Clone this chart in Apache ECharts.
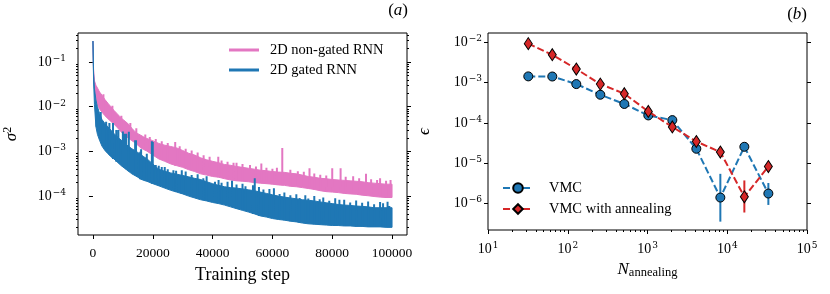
<!DOCTYPE html>
<html><head><meta charset="utf-8">
<script src="https://cdn.jsdelivr.net/npm/echarts@6/dist/echarts.min.js"></script>
<style>html,body{margin:0;padding:0;background:#fff}#c{width:830px;height:294px}</style>
</head><body><div id="c"></div>
<script>
// ---------- panel (a) data ----------
const steps = [0,200,500,1000,1500,2200,3000,4000,5000,6000,7000,8000,9000,10000,11000,12000,13000,14000,15000,16000,17000,18000,
  20000,22000,24000,26000,28000,30000,32000,34000,36000,38000,40000,42000,44000,46000,48000,50000,52000,54000,56000,58000,60000,
  62000,64000,66000,68000,70000,72000,74000,76000,78000,80000,82000,84000,86000,88000,90000,92000,94000,96000,98000,100000];
const nonGatedHigh = [0.295,0.0708,0.038,0.0302,0.0263,0.0214,0.0182,0.0145,0.0120,0.0100,8.3e-3,7.1e-3,6.0e-3,5.2e-3,4.6e-3,4.0e-3,3.3e-3,2.8e-3,2.5e-3,2.3e-3,2.1e-3,1.95e-3,
  1.74e-3,1.51e-3,1.38e-3,1.29e-3,1.20e-3,1.05e-3,9.1e-4,8.3e-4,7.2e-4,6.5e-4,6.0e-4,5.6e-4,5.1e-4,4.9e-4,4.6e-4,4.4e-4,4.2e-4,4.0e-4,3.8e-4,3.7e-4,3.55e-4,
  3.45e-4,3.4e-4,3.25e-4,3.15e-4,2.95e-4,2.75e-4,2.65e-4,2.5e-4,2.45e-4,2.35e-4,2.3e-4,2.25e-4,2.2e-4,2.15e-4,2.1e-4,2.0e-4,1.95e-4,1.9e-4,1.85e-4,1.85e-4];
const nonGatedLow = [0.295,0.050,0.0251,0.0158,0.0112,8.9e-3,7.6e-3,6.3e-3,5.4e-3,4.7e-3,4.1e-3,3.5e-3,2.95e-3,2.5e-3,2.2e-3,1.95e-3,1.74e-3,1.58e-3,1.38e-3,1.20e-3,1.10e-3,1.02e-3,
  8.3e-4,6.8e-4,6.0e-4,5.25e-4,4.8e-4,4.4e-4,3.9e-4,3.55e-4,3.15e-4,2.95e-4,2.75e-4,2.65e-4,2.45e-4,2.3e-4,2.2e-4,2.15e-4,2.1e-4,2.0e-4,1.95e-4,1.9e-4,1.85e-4,
  1.78e-4,1.74e-4,1.66e-4,1.62e-4,1.55e-4,1.48e-4,1.41e-4,1.32e-4,1.26e-4,1.23e-4,1.20e-4,1.15e-4,1.12e-4,1.10e-4,1.05e-4,1.02e-4,9.8e-5,9.5e-5,9.3e-5,9.3e-5];
const gatedHigh = [0.295,0.056,0.0251,0.0141,0.0100,7.1e-3,5.2e-3,4.2e-3,3.55e-3,3.0e-3,2.5e-3,2.2e-3,1.9e-3,1.66e-3,1.45e-3,1.29e-3,1.15e-3,1.05e-3,9.5e-4,8.5e-4,7.6e-4,6.9e-4,
  5.25e-4,4.0e-4,3.6e-4,3.3e-4,3.1e-4,2.9e-4,2.7e-4,2.5e-4,2.35e-4,2.1e-4,1.9e-4,1.74e-4,1.62e-4,1.55e-4,1.51e-4,1.45e-4,1.38e-4,1.32e-4,1.23e-4,1.15e-4,1.07e-4,
  1.0e-4,9.5e-5,9.1e-5,8.7e-5,8.3e-5,8.1e-5,7.8e-5,7.4e-5,7.1e-5,6.8e-5,6.5e-5,6.3e-5,6.2e-5,6.0e-5,5.9e-5,5.75e-5,5.5e-5,5.5e-5,5.5e-5,5.5e-5];
const gatedLow = [0.295,0.040,0.0112,3.55e-3,2.4e-3,1.78e-3,1.32e-3,1.05e-3,8.9e-4,7.6e-4,6.8e-4,5.9e-4,5.1e-4,4.5e-4,4.0e-4,3.55e-4,3.15e-4,2.9e-4,2.65e-4,2.4e-4,2.25e-4,2.15e-4,
  1.9e-4,1.7e-4,1.51e-4,1.35e-4,1.23e-4,1.12e-4,1.0e-4,9.1e-5,8.3e-5,7.8e-5,7.2e-5,6.8e-5,6.3e-5,5.75e-5,5.25e-5,4.8e-5,4.4e-5,4.0e-5,3.6e-5,3.4e-5,3.15e-5,
  3.0e-5,2.9e-5,2.75e-5,2.65e-5,2.5e-5,2.4e-5,2.35e-5,2.3e-5,2.25e-5,2.2e-5,2.2e-5,2.15e-5,2.15e-5,2.1e-5,2.1e-5,2.05e-5,2.05e-5,2.05e-5,2.0e-5,2.0e-5];
// upward excursions of the noisy curves (step, peak sigma^2)
const nonGatedSpikes = [[27500,1.62e-3],[41900,7.6e-4],[48000,5.6e-4],[56300,5.4e-4],[63300,1.2e-3],[72400,4.2e-4],[80000,4.2e-4],[82800,4.2e-4],[87000,2.8e-4],[91300,3.15e-4],[96000,2.5e-4],
  [3500,0.019],[6500,0.0105],[9500,6.3e-3],[12500,4.3e-3],[14500,3.3e-3],[17500,2.4e-3],[19000,2.1e-3],[21000,1.9e-3],[23000,1.7e-3],[25000,1.55e-3],[29000,1.3e-3],
  [31000,1.15e-3],[33000,1.05e-3],[35000,9.5e-4],[37000,8.2e-4],[39000,7.6e-4],[43000,6.3e-4],[45000,5.9e-4],[47000,5.6e-4],[50000,5.2e-4],[52500,5.0e-4],[54500,4.6e-4],
  [58000,4.3e-4],[60000,4.1e-4],[61500,4.3e-4],[66000,3.9e-4],[68500,3.6e-4],[70500,3.5e-4],[74000,3.2e-4],[76000,3.0e-4],[78000,2.9e-4],[84500,2.7e-4],[89000,2.5e-4],
  [93000,2.4e-4],[95000,2.3e-4],[98000,2.2e-4],[99500,2.3e-4]];
const gatedSpikes = [[1200,7.1e-3],[2600,7.6e-3],[4400,4.6e-3],[5500,4.3e-3],[6700,4.3e-3],[7800,3.0e-3],[8500,3.0e-3],[10000,2.8e-3],[10500,2.5e-3],[11100,2.5e-3],[12000,2.75e-3],
  [14100,1.78e-3],[14400,1.78e-3],[15800,9.8e-4],[16100,1.12e-3],[18000,8.9e-4],[19700,1.7e-3],[20000,1.62e-3],[23000,4.5e-4],[25000,4.0e-4],[26900,3.8e-4],[29700,3.8e-4],
  [31000,3.55e-4],[33000,2.95e-4],[36900,2.5e-4],[40800,2.1e-4],[43000,2.0e-4],[48000,1.82e-4],[51000,1.66e-4],[53500,1.74e-4],[54100,2.5e-4],[57000,1.41e-4],[62400,1.12e-4],
  [66000,1.05e-4],[69100,9.1e-5],[72000,8.9e-5],[75800,8.5e-5],[79000,7.9e-5],[82400,8.3e-5],[86000,7.2e-5],[90000,7.1e-5],[94000,6.6e-5],[97000,6.9e-5],[99100,6.0e-5],
  [21000,5.0e-4],[22000,4.8e-4],[24000,4.5e-4],[27800,3.7e-4],[35000,3.1e-4],[38000,2.8e-4],[42000,2.3e-4],[45000,2.1e-4],[46500,2.2e-4],[50000,1.9e-4],[55500,1.6e-4],
  [59000,1.45e-4],[60500,1.5e-4],[64000,1.2e-4],[68000,1.1e-4],[71000,1.05e-4],[74000,1.0e-4],[77000,9.3e-5],[81000,9.0e-5],[84000,8.3e-5],[88000,8.0e-5],[92000,7.6e-5],
  [96000,7.4e-5],[98500,7.5e-5]];
const leftXTicks = [0,20000,40000,60000,80000,100000];
const leftYTickExponents = [-4,-3,-2,-1];
// ---------- panel (b) data ----------
const nAnnealing = [32,64,128,256,512,1024,2048,4096,8192,16384,32768];
const vmc = [1.43e-3,1.42e-3,9.2e-4,5.0e-4,2.95e-4,1.53e-4,1.17e-4,2.27e-5,1.39e-6,2.54e-5,1.75e-6];
const vmcLower = [1.40e-3,1.39e-3,9.0e-4,4.9e-4,2.9e-4,1.48e-4,1.14e-4,1.9e-5,3.5e-7,2.4e-5,9.1e-7];
const vmcUpper = [1.46e-3,1.45e-3,9.4e-4,5.1e-4,3.0e-4,1.58e-4,1.2e-4,2.6e-5,5.4e-6,2.6e-5,3.2e-6];
const annealed = [9.3e-3,4.94e-3,2.18e-3,9.2e-4,5.3e-4,1.92e-4,7.9e-5,3.44e-5,1.88e-5,1.45e-6,8.2e-6];
const annealedLower = [9.1e-3,4.8e-3,2.1e-3,9.0e-4,5.2e-4,1.85e-4,7.6e-5,3.2e-5,1.7e-5,5.9e-7,7.6e-6];
const annealedUpper = [9.5e-3,5.0e-3,2.25e-3,9.4e-4,5.4e-4,1.98e-4,8.2e-5,3.7e-5,2.1e-5,3.7e-6,8.8e-6];
const rightXTickExponents = [1,2,3,4,5];
const rightYTickExponents = [-6,-5,-4,-3,-2];
const minorMultipliers = [2,3,4,5,6,7,8,9];

// ---------- build ----------
const PINK = '#e377c2', BLUE = '#1f77b4', RED = '#d62728';
const FONT = 'Liberation Serif';
const SUPFONT = 'DejaVu Serif';
const L = Math.log10;
const minorsFor = (decades) => { const r = []; decades.forEach(d => minorMultipliers.forEach(m => r.push(L(m) + d))); return r; };
const leftYMinor = minorsFor([-5,-4,-3,-2,-1]);
const rightXMinor = minorsFor([1,2,3,4]);
const supLabel = (v) => { const e = Math.round(v); return '{b|10}{s|' + (e < 0 ? '\u2212' : '') + Math.abs(e) + '}'; };
const supRich = { b: { fontFamily: FONT, fontSize: 14, color: '#000', lineHeight: 16 },
                  s: { fontFamily: SUPFONT, fontSize: 9, color: '#000', lineHeight: 10, verticalAlign: 'top', padding: [0, 0, 0, 1] } };

function band(lowArr, highArr, color, name) {
  return { type: 'custom', name: name, xAxisIndex: 0, yAxisIndex: 0, silent: true, itemStyle: { color: color },
    data: steps.map((s, i) => [s, L(lowArr[i]), L(highArr[i])]),
    encode: { x: 0, y: [1, 2] },
    renderItem: (params, api) => {
      if (params.dataIndex !== 0) return null;
      const pts = [];
      steps.forEach((s, i) => pts.push(api.coord([s, L(highArr[i])])));
      for (let i = steps.length - 1; i >= 0; i--) pts.push(api.coord([steps[i], L(lowArr[i])]));
      return { type: 'polygon', shape: { points: pts }, style: { fill: color, stroke: color, lineWidth: 1 } };
    } };
}
function spikes(list, lowArr, color, name) {
  const out = [];
  list.forEach(([s, v]) => {
    let idx = 0;
    steps.forEach((g, i) => { if (Math.abs(g - s) < Math.abs(steps[idx] - s)) idx = i; });
    out.push([s, L(lowArr[idx])], [s, L(v)], [s, '-']);
  });
  return { type: 'line', name: name, xAxisIndex: 0, yAxisIndex: 0, data: out, symbol: 'none', color: color,
    lineStyle: { color: color, width: 2 }, silent: true };
}
function errBars(lower, upper, color, name, z) {
  return { type: 'custom', name: name, xAxisIndex: 1, yAxisIndex: 4, z: z, silent: true,
    data: nAnnealing.map((n, i) => [L(n), L(lower[i]), L(upper[i])]),
    encode: { x: 0, y: [1, 2] },
    renderItem: (params, api) => {
      const p1 = api.coord([api.value(0), api.value(1)]);
      const p2 = api.coord([api.value(0), api.value(2)]);
      return { type: 'line', shape: { x1: p1[0], y1: p1[1], x2: p2[0], y2: p2[1] }, style: { stroke: color, lineWidth: 2 } };
    } };
}
const tickStyle = (len) => ({ show: true, inside: false, length: len, lineStyle: { color: '#000', width: 1 } });
const yAx = (grid, min, max, pos, major, minor, labelMargin, extra) => Object.assign({
  type: 'value', gridIndex: grid, min: min, max: max, position: pos,
  axisLine: { show: false }, splitLine: { show: false },
  axisTick: Object.assign(tickStyle(minor ? 2 : 4), { customValues: major }),
  axisLabel: labelMargin ? { show: true, customValues: major, formatter: supLabel, rich: supRich, margin: labelMargin } : { show: false }
}, extra || {});

const series = [
  band(nonGatedLow, nonGatedHigh, PINK, '2D non-gated RNN'),
  spikes(nonGatedSpikes, nonGatedLow, PINK, 'ng_spikes'),
  band(gatedLow, gatedHigh, BLUE, '2D gated RNN'),
  spikes(gatedSpikes, gatedLow, BLUE, 'g_spikes'),
  errBars(vmcLower, vmcUpper, BLUE, 'vmc_err', 3),
  { type: 'line', name: 'VMC', xAxisIndex: 1, yAxisIndex: 4, z: 4, silent: true,
    data: nAnnealing.map((n, i) => [L(n), L(vmc[i])]),
    symbol: 'circle', symbolSize: 9, itemStyle: { color: BLUE, borderColor: '#000', borderWidth: 1 },
    lineStyle: { color: BLUE, width: 2, type: [7, 3] } },
  errBars(annealedLower, annealedUpper, RED, 'ann_err', 5),
  { type: 'line', name: 'VMC with annealing', xAxisIndex: 1, yAxisIndex: 4, z: 6, silent: true,
    data: nAnnealing.map((n, i) => [L(n), L(annealed[i])]),
    symbol: 'diamond', symbolSize: [8, 12], itemStyle: { color: RED, borderColor: '#000', borderWidth: 1 },
    lineStyle: { color: RED, width: 2, type: [7, 3] } }
];

const panelRich = { p: { fontFamily: FONT, fontSize: 17, fontWeight: 'normal', color: '#000' },
                    i: { fontFamily: FONT, fontSize: 17, fontWeight: 'normal', fontStyle: 'italic', color: '#000' } };
const option = {
  animation: false,
  backgroundColor: '#fff',
  textStyle: { fontFamily: FONT, color: '#000' },
  title: [
    { text: '{p|(}{i|a}{p|)}', right: 422, top: 2, padding: 0, textStyle: { fontWeight: 'normal', rich: panelRich } },
    { text: '{p|(}{i|b}{p|)}', right: 23, top: 6, padding: 0, textStyle: { fontWeight: 'normal', rich: panelRich } }
  ],
  legend: [
    { data: ['2D non-gated RNN', '2D gated RNN'], orient: 'vertical', left: 229, top: 42, padding: 0,
      icon: 'rect', itemWidth: 30, itemHeight: 3, itemGap: 4, selectedMode: false,
      textStyle: { fontFamily: FONT, fontSize: 14.5, color: '#000', lineHeight: 16, padding: [0, 0, 0, 6] } },
    { data: ['VMC', 'VMC with annealing'], orient: 'vertical', left: 502, top: 180, padding: 0,
      itemWidth: 30, itemHeight: 12, itemGap: 5, selectedMode: false,
      textStyle: { fontFamily: FONT, fontSize: 14.5, color: '#000', lineHeight: 16, padding: [0, 0, 0, 11] } }
  ],
  grid: [
    { left: 78, top: 33, width: 329, height: 202, show: true, borderColor: '#000', borderWidth: 1, backgroundColor: 'transparent', containLabel: false, outerBoundsMode: 'none' },
    { left: 488, top: 33, width: 319, height: 197, show: true, borderColor: '#000', borderWidth: 1, backgroundColor: 'transparent', containLabel: false, outerBoundsMode: 'none' }
  ],
  xAxis: [
    { type: 'value', gridIndex: 0, min: -5000, max: 105000, position: 'bottom',
      axisLine: { show: false }, splitLine: { show: false },
      axisTick: Object.assign(tickStyle(4), { customValues: leftXTicks }),
      axisLabel: { customValues: leftXTicks, formatter: (v) => String(v), fontFamily: FONT, fontSize: 13.5, color: '#000', lineHeight: 16, margin: 10 },
      name: 'Training step', nameLocation: 'middle', nameGap: 29,
      nameTextStyle: { fontFamily: FONT, fontSize: 18, color: '#000' } },
    { type: 'value', gridIndex: 1, min: 1, max: 5, position: 'bottom',
      axisLine: { show: false }, splitLine: { show: false },
      axisTick: Object.assign(tickStyle(4), { customValues: rightXTickExponents }),
      axisLabel: { customValues: rightXTickExponents, formatter: supLabel, rich: supRich, margin: 11 },
      name: '{i|N}{sub|annealing}', nameLocation: 'middle', nameGap: 24,
      nameTextStyle: { rich: { i: { fontFamily: FONT, fontSize: 17, fontStyle: 'italic', color: '#000', lineHeight: 20 },
                               sub: { fontFamily: FONT, fontSize: 12.5, color: '#000', lineHeight: 12, verticalAlign: 'bottom' } } } },
    { type: 'value', gridIndex: 1, min: 1, max: 5, position: 'bottom',
      axisLine: { show: false }, splitLine: { show: false },
      axisTick: Object.assign(tickStyle(2), { customValues: rightXMinor }), axisLabel: { show: false } }
  ],
  yAxis: [
    yAx(0, -4.87, -0.35, 'left', leftYTickExponents, false, 12, {
      name: '{i|\u03c3}{s|2}', nameLocation: 'middle', nameRotate: 90, nameGap: 56,
      nameTextStyle: { rich: { i: { fontFamily: FONT, fontSize: 17, fontStyle: 'italic', color: '#000', lineHeight: 20 },
                               s: { fontFamily: FONT, fontSize: 12, color: '#000', lineHeight: 12, verticalAlign: 'top' } } } }),
    yAx(0, -4.87, -0.35, 'left', leftYMinor, true, 0),
    yAx(0, -4.87, -0.35, 'right', leftYTickExponents, false, 0),
    yAx(0, -4.87, -0.35, 'right', leftYMinor, true, 0),
    yAx(1, -6.664, -1.766, 'left', rightYTickExponents, false, 6, {
      name: '{i|\u03f5}', nameLocation: 'middle', nameRotate: 90, nameGap: 55,
      nameTextStyle: { rich: { i: { fontFamily: FONT, fontSize: 17, fontStyle: 'italic', color: '#000' } } } }),
    yAx(1, -6.664, -1.766, 'right', rightYTickExponents, false, 0)
  ],
  series: series
};
const chart = echarts.init(document.getElementById('c'), null, { renderer: 'canvas' });
chart.setOption(option);
</script>
</body></html>
